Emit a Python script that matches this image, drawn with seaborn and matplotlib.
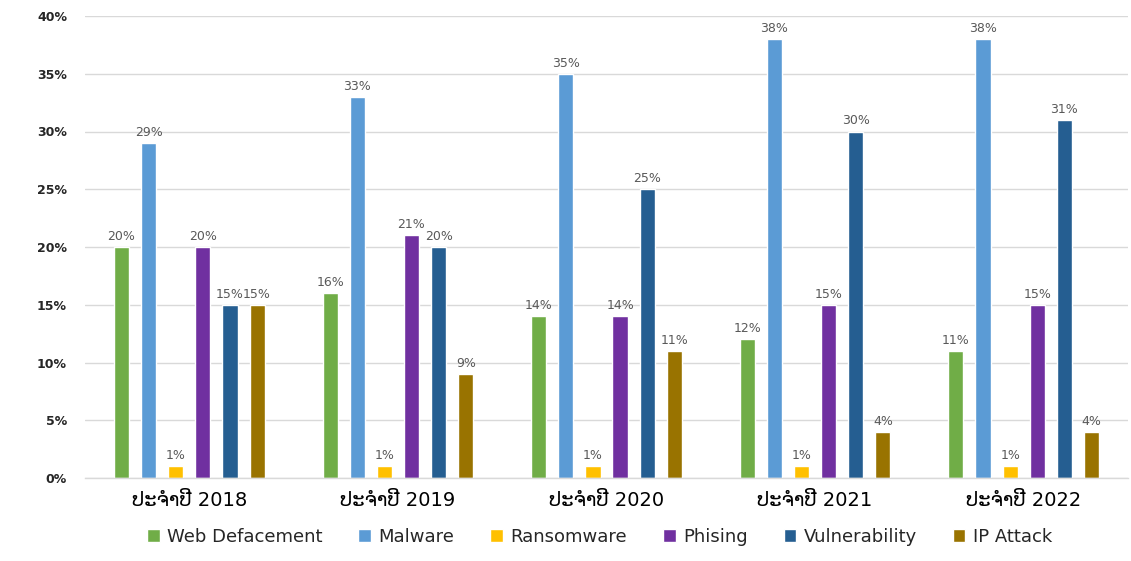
import matplotlib
matplotlib.use("Agg")
import matplotlib.pyplot as plt
import seaborn as sns
import pandas as pd
from matplotlib.ticker import FuncFormatter

years = ["ປະຈຳປີ 2018", "ປະຈຳປີ 2019", "ປະຈຳປີ 2020", "ປະຈຳປີ 2021", "ປະຈຳປີ 2022"]
series_names = ["Web Defacement", "Malware", "Ransomware", "Phising", "Vulnerability", "IP Attack"]
web_defacement = [20, 16, 14, 12, 11]
malware = [29, 33, 35, 38, 38]
ransomware = [1, 1, 1, 1, 1]
phising = [20, 21, 14, 15, 15]
vulnerability = [15, 20, 25, 30, 31]
ip_attack = [15, 9, 11, 4, 4]
colors = ["#70AD47", "#5B9BD5", "#FFC000", "#7030A0", "#255E91", "#997300"]
y_ticks = [0, 5, 10, 15, 20, 25, 30, 35, 40]

values = [web_defacement, malware, ransomware, phising, vulnerability, ip_attack]
rows = []
for name, vals in zip(series_names, values):
    for yr, v in zip(years, vals):
        rows.append({"year": yr, "type": name, "value": v})
df = pd.DataFrame(rows)

sns.set_theme(style="white")
plt.rcParams['font.family'] = ['DejaVu Sans']

fig = plt.figure(figsize=(11.31, 5.61), dpi=100)
ax = fig.add_axes([85 / 1131, 1 - 478 / 561, (1128 - 85) / 1131, (478 - 16) / 561])

sns.barplot(data=df, x="year", y="value", hue="type", order=years,
            hue_order=series_names, palette=colors, width=0.78, gap=0.44,
            saturation=1, ax=ax, legend=True)

for cont in ax.containers:
    ax.bar_label(cont, labels=[f"{int(round(v))}%" for v in cont.datavalues],
                 padding=3, fontsize=9, color="#595959")

ax.set_ylim(0, 40)
ax.set_yticks(y_ticks)
ax.yaxis.set_major_formatter(FuncFormatter(lambda v, p: f"{int(v)}%"))
ax.set_xlim(-0.5, len(years) - 0.5)
ax.grid(axis="y", color="#D9D9D9", linewidth=1)
ax.set_axisbelow(True)
for s in ["top", "right", "left"]:
    ax.spines[s].set_visible(False)
ax.spines["bottom"].set_color("#D9D9D9")
ax.spines["bottom"].set_linewidth(1)
ax.set_xlabel("")
ax.set_ylabel("")
ax.tick_params(axis="y", length=0, pad=13, labelsize=9, labelcolor="#262626")
for t in ax.get_yticklabels():
    t.set_fontweight("bold")
ax.tick_params(axis="x", length=0, pad=9, labelsize=14, labelcolor="#000000")

handles, labels = ax.get_legend_handles_labels()
ax.get_legend().remove()
fig.legend(handles, labels, loc="center", bbox_to_anchor=(0.53, 1 - 537 / 561),
           ncol=6, frameon=False, fontsize=13, handlelength=0.7, handleheight=0.7,
           handletextpad=0.4, columnspacing=2.0, borderaxespad=0)

fig.savefig("out.png", dpi=100, facecolor="white")
